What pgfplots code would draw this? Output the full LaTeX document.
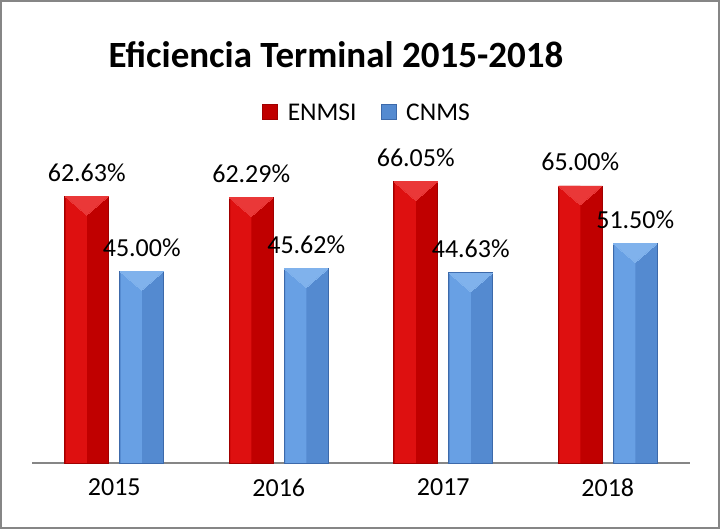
\documentclass[border=0pt]{standalone}
\usepackage{pgfplots}
\pgfplotsset{compat=1.18}
\usepackage{fontspec}
\setmainfont{Carlito}
\definecolor{redL}{RGB}{222,16,16}
\definecolor{redD}{RGB}{192,0,0}
\definecolor{redT}{RGB}{234,56,56}
\definecolor{redE}{RGB}{160,0,0}
\definecolor{bluL}{RGB}{104,160,228}
\definecolor{bluD}{RGB}{84,138,208}
\definecolor{bluT}{RGB}{128,178,236}
\definecolor{bluE}{RGB}{60,105,170}
\definecolor{frameg}{RGB}{134,134,134}
\pgfplotstableread{
x enmsi cnms
0 62.63 45.00
1 62.29 45.62
2 66.05 44.63
3 65.00 51.50
}\datatab
\begin{document}
\begin{tikzpicture}[x=1pt,y=1pt]
\path[use as bounding box] (0,0) rectangle (720,529);
\draw[frameg, line width=2pt] (1,1) rectangle (719,528);
\node[font=\fontsize{37}{40}\selectfont\bfseries] at (336,474) {Eficiencia Terminal 2015-2018};
\begin{axis}[
  at={(32pt,66pt)}, anchor=south west,
  scale only axis, width=658pt, height=341pt,
  xmin=-0.5, xmax=3.5, ymin=0, ymax=80,
  axis y line=none, axis x line*=bottom,
  x axis line style={frameg, line width=1.5pt, -},
  xtick=data, xticklabels={2015,2016,2017,2018},
  major tick length=0pt,
  xticklabel style={font=\fontsize{26}{30}\selectfont, yshift=-12pt},
  every node near coord/.append style={font=\fontsize{26}{30}\selectfont, anchor=base, yshift=15pt, inner sep=0pt, black},
  clip=false,
  legend columns=2,
  legend style={at={(0.503,1.0)}, anchor=south, xshift=4pt, yshift=-4pt, draw=none, fill=none,
    font=\fontsize{25.5}{30}\selectfont,
    /tikz/every odd column/.append style={column sep=8pt},
    /tikz/every even column/.append style={column sep=22pt}},
  legend image code/.code={\path[#1] (-6pt,-7pt) rectangle (9pt,8pt);},
]
% full bars (darker right half)
\addplot[ybar, bar width=44pt, bar shift=-27.5pt, fill=redD, draw=redE, line width=0.6pt,
  every node near coord/.append style={xshift=-27.5pt},
  nodes near coords={\pgfmathprintnumber[fixed,fixed zerofill,precision=2,assume math mode=true]{\pgfplotspointmeta}\%}]
  table[x=x,y=enmsi] {\datatab};
\addplot[ybar, bar width=44pt, bar shift=27.5pt, fill=bluD, draw=bluE, line width=0.6pt,
  every node near coord/.append style={xshift=27.5pt},
  nodes near coords={\pgfmathprintnumber[fixed,fixed zerofill,precision=2,assume math mode=true]{\pgfplotspointmeta}\%}]
  table[x=x,y=cnms] {\datatab};
% lighter left halves
\addplot[ybar, forget plot, bar width=21pt, bar shift=-38pt, fill=redL, draw=none] table[x=x,y=enmsi] {\datatab};
\addplot[ybar, forget plot, bar width=21pt, bar shift=17pt, fill=bluL, draw=none] table[x=x,y=cnms] {\datatab};
% bevel top triangles
\addplot[forget plot, only marks, mark=triangle*, mark size=25pt,
  mark options={xshift=-27.5pt, yshift=-6.5pt, rotate=180, yscale=0.5, fill=redT, draw=redT, line width=0pt}]
  table[x=x,y=enmsi] {\datatab};
\addplot[forget plot, only marks, mark=triangle*, mark size=25pt,
  mark options={xshift=27.5pt, yshift=-6.5pt, rotate=180, yscale=0.5, fill=bluT, draw=bluT, line width=0pt}]
  table[x=x,y=cnms] {\datatab};
\legend{ENMSI,CNMS}
\end{axis}
\end{tikzpicture}
\end{document}
